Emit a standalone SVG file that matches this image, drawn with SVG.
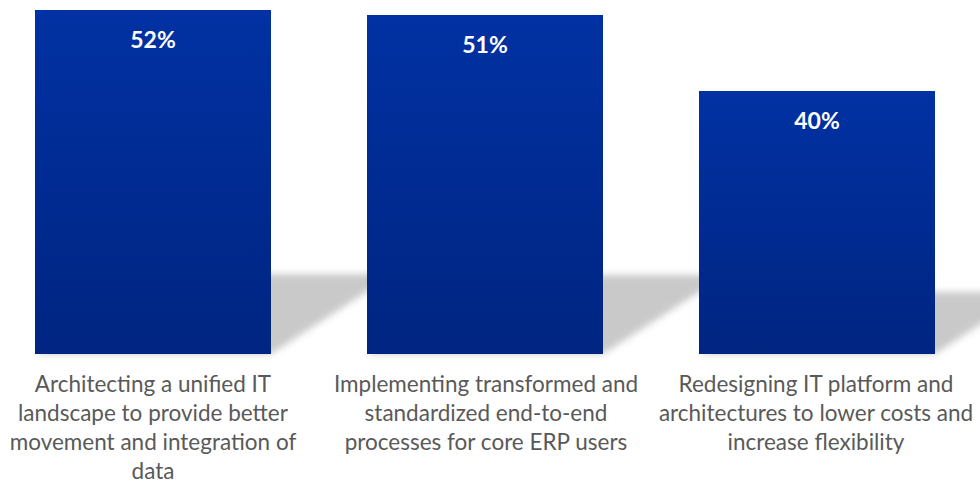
<svg xmlns="http://www.w3.org/2000/svg" width="980" height="483" viewBox="0 0 980 483">
<defs>
<linearGradient id="barFill" x1="0" y1="0" x2="0" y2="1">
<stop offset="0" stop-color="#0131A3"/>
<stop offset="1" stop-color="#002581"/>
</linearGradient>
<filter id="soft" x="-20%" y="-40%" width="140%" height="180%">
<feGaussianBlur stdDeviation="3.5"/>
</filter>
<style>
.bar{fill:url(#barFill);}
.shadow{fill:#c9c9c9;filter:url(#soft);}
.val{font-family:Lato,"Open Sans","Liberation Sans",sans-serif;font-weight:bold;font-size:23px;fill:#ffffff;text-anchor:middle;}
.cat{font-family:Lato,"Open Sans","Liberation Sans",sans-serif;font-size:22.5px;fill:#595959;text-anchor:middle;}
</style>
</defs>
<rect width="980" height="483" fill="#ffffff"/>
<g id="shadows">
<polygon class="shadow" points="158,274 394,274 271,354 35,354"/>
<polygon class="shadow" points="490,275 726,275 603,354 367,354"/>
<polygon class="shadow" points="794,292 1030,292 935,354 699,354"/>
</g>
<g id="bar1">
<rect class="bar" x="35" y="10" width="236" height="344"/>
<text class="val" x="153" y="48">52%</text>
<text class="cat" x="153" y="392">Architecting a unified IT</text>
<text class="cat" x="153" y="421">landscape to provide better</text>
<text class="cat" x="153" y="450">movement and integration of</text>
<text class="cat" x="153" y="479">data</text>
</g>
<g id="bar2">
<rect class="bar" x="367" y="15" width="236" height="339"/>
<text class="val" x="485" y="53">51%</text>
<text class="cat" x="486" y="392">Implementing transformed and</text>
<text class="cat" x="486" y="421">standardized end-to-end</text>
<text class="cat" x="486" y="450">processes for core ERP users</text>
</g>
<g id="bar3">
<rect class="bar" x="699" y="91" width="236" height="263"/>
<text class="val" x="817" y="129">40%</text>
<text class="cat" x="816" y="392">Redesigning IT platform and</text>
<text class="cat" x="816" y="421">architectures to lower costs and</text>
<text class="cat" x="816" y="450">increase flexibility</text>
</g>
</svg>
